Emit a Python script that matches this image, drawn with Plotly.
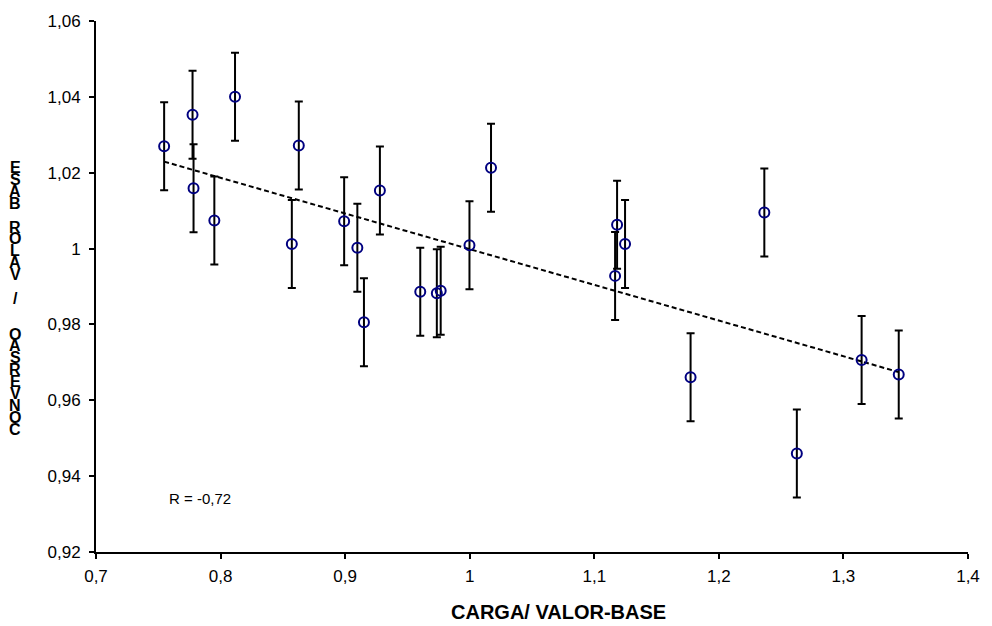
import numpy as np
import plotly.graph_objects as go

# ---- data ----
carga = [0.7547, 0.7775, 0.7783, 0.7950, 0.8116, 0.8572, 0.8628, 0.8992, 0.9098, 0.9151,
         0.9279, 0.9603, 0.9736, 0.9767, 0.9998, 1.0171, 1.1167, 1.1183, 1.1247, 1.1773,
         1.2365, 1.2626, 1.3146, 1.3444]
conversao = [1.0270, 1.0353, 1.0159, 1.0074, 1.0400, 1.0012, 1.0272, 1.0072, 1.0002, 0.9806,
             1.0153, 0.9886, 0.9882, 0.9889, 1.0009, 1.0213, 0.9928, 1.0063, 1.0012, 0.9661,
             1.0095, 0.9460, 0.9706, 0.9668]
erro = [0.0116] * len(carga)

x_ticks = [0.7, 0.8, 0.9, 1.0, 1.1, 1.2, 1.3, 1.4]
x_ticklabels = ["0,7", "0,8", "0,9", "1", "1,1", "1,2", "1,3", "1,4"]
y_ticks = [0.92, 0.94, 0.96, 0.98, 1.0, 1.02, 1.04, 1.06]
y_ticklabels = ["0,92", "0,94", "0,96", "0,98", "1", "1,02", "1,04", "1,06"]

x_title = "CARGA/ VALOR-BASE"
y_title_letters = ["E", "S", "A", "B", "", "R", "O", "L", "A", "V", "", "/", "", "",
                   "O", "A", "S", "R", "E", "V", "N", "O", "C"]
r_text = "R = -0,72"

# ---- figure ----
FONT = "Liberation Sans, Arial, sans-serif"
W, H = 992, 626
ML, MR, MT, MB = 96, 17, 20, 74
PH = H - MT - MB
PW = W - ML - MR
AXIS_Y = MT + PH

fig = go.Figure()

# trend line (least squares fit of the data)
slope, intercept = np.polyfit(carga, conversao, 1)
xt = np.array([min(carga), max(carga)])
fig.add_trace(go.Scatter(
    x=xt, y=slope * xt + intercept, mode="lines",
    line=dict(color="black", width=2, dash="5px,3px"),
    hoverinfo="skip", showlegend=False))

fig.add_trace(go.Scatter(
    x=carga, y=conversao, mode="markers",
    marker=dict(symbol="circle-open", size=10, color="#000080",
                line=dict(width=2, color="#000080")),
    error_y=dict(type="data", array=erro, visible=True, color="black",
                 thickness=2, width=4),
    showlegend=False))

fig.update_layout(
    width=W, height=H,
    margin=dict(l=ML, r=MR, t=MT, b=MB),
    paper_bgcolor="white", plot_bgcolor="white",
    font=dict(family=FONT, size=17, color="black"),
    showlegend=False,
    xaxis=dict(range=[0.7, 1.4], tickvals=x_ticks, ticktext=x_ticklabels,
               showgrid=False, zeroline=False, showline=True, linecolor="black",
               linewidth=2, ticks="outside", ticklen=5, tickwidth=2, tickcolor="black",
               tickfont=dict(size=17, family=FONT), ticklabelstandoff=3),
    yaxis=dict(range=[0.92, 1.06], tickvals=y_ticks, ticktext=y_ticklabels,
               showgrid=False, zeroline=False, showline=True, linecolor="black",
               linewidth=2, ticks="outside", ticklen=5, tickwidth=2, tickcolor="black",
               tickfont=dict(size=17, family=FONT), ticklabelstandoff=5),
)

fig.add_annotation(x=0.757, y=0.934, xref="x", yref="y", text=r_text, showarrow=False,
                   xanchor="left", yanchor="middle", font=dict(size=15, family=FONT))

# x-axis title
fig.add_annotation(x=(562 - ML) / PW, y=-(612 - AXIS_Y) / PH, xref="paper", yref="paper",
                   text="<b>" + x_title + "</b>", showarrow=False, xanchor="center",
                   yanchor="middle", font=dict(size=20, family=FONT))

# stacked vertical y-axis title
spacing = 11.9
top_px = 167
for i, ch in enumerate(y_title_letters):
    if not ch:
        continue
    ypix = top_px + i * spacing
    fig.add_annotation(x=0, y=1 - (ypix - MT) / PH, xref="paper", yref="paper",
                       xshift=15 - ML, text="<b>" + ch + "</b>", showarrow=False,
                       xanchor="center", yanchor="middle",
                       font=dict(size=16, family=FONT))

fig.write_html("out.html")
